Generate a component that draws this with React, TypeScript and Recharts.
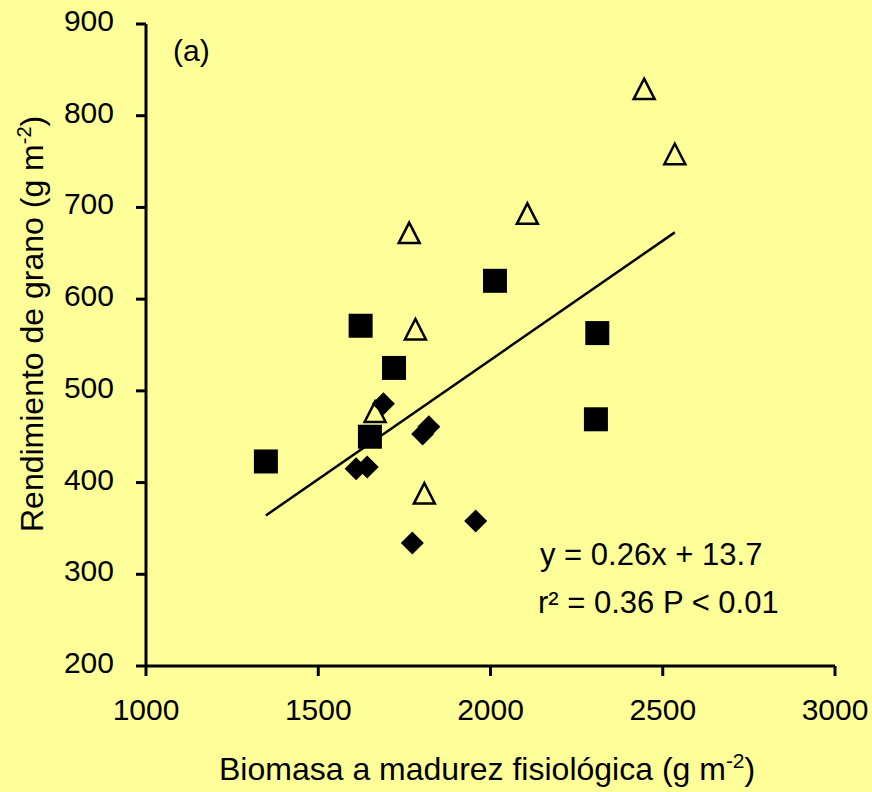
import React from 'react';
import { ScatterChart, Scatter, XAxis, YAxis, ReferenceLine } from 'recharts';

// biomass (x) vs grain yield (y), g m-2
const TRI_X = [1764, 1782, 1665, 1808, 2107, 2446, 2535];
const TRI_Y = [672, 567, 477, 388, 693, 829, 758];
const SQ_X = [1348, 1623, 1720, 1650, 2013, 2310, 2306];
const SQ_Y = [423, 571, 525, 450, 620, 563, 469];
const DIA_X = [1689, 1610, 1642, 1803, 1821, 1957, 1773];
const DIA_Y = [486, 415, 417, 453, 461, 358, 334];

const X_TICKS = [1000, 1500, 2000, 2500, 3000];
const Y_TICKS = [200, 300, 400, 500, 600, 700, 800, 900];

// fitted line y = 0.26x + 13.7
const SLOPE = 0.26;
const INTERCEPT = 13.7;

const FONT = '"Liberation Sans", Arial, Helvetica, sans-serif';
const BG = '#FFFF99';

const toPoints = (xs: number[], ys: number[]) => xs.map((x, i) => ({ x, y: ys[i] }));

const allX = [...TRI_X, ...SQ_X, ...DIA_X];
const fitX0 = Math.min(...allX);
const fitX1 = Math.max(...allX);

const Square = ({ cx, cy }: any) => (
  <rect x={cx - 12} y={cy - 12} width={24} height={24} fill="#000" />
);

const Diamond = ({ cx, cy }: any) => (
  <path d={`M${cx},${cy - 11.5} L${cx + 11.5},${cy} L${cx},${cy + 11.5} L${cx - 11.5},${cy} Z`} fill="#000" />
);

const Triangle = ({ cx, cy }: any) => (
  <path
    d={`M${cx},${cy - 10.5} L${cx + 10.5},${cy + 10} L${cx - 10.5},${cy + 10} Z`}
    fill="none"
    stroke="#000"
    strokeWidth={2.5}
    strokeLinejoin="miter"
  />
);

const XTick = ({ x, y, payload }: any) => (
  <text x={x} y={y} dy={44} textAnchor="middle" fontSize={30} fontFamily={FONT} fill="#000">
    {payload.value}
  </text>
);

const YTick = ({ x, y, payload }: any) => (
  <text x={x} y={y} dx={-22} dy={7} textAnchor="end" fontSize={30} fontFamily={FONT} fill="#000">
    {payload.value}
  </text>
);

export default function App() {
  return (
    <div style={{ position: 'absolute', left: 0, top: 0, width: 872, height: 792, background: BG }}>
      <ScatterChart width={872} height={792} margin={{ top: 24, right: 37, bottom: 0, left: 0 }}>
        <XAxis
          type="number"
          dataKey="x"
          domain={[1000, 3000]}
          ticks={X_TICKS}
          allowDataOverflow
          height={126}
          tickSize={10}
          tickMargin={0}
          axisLine={{ stroke: '#000', strokeWidth: 3 }}
          tickLine={{ stroke: '#000', strokeWidth: 3 }}
          tick={XTick}
        />
        <YAxis
          type="number"
          dataKey="y"
          domain={[200, 900]}
          ticks={Y_TICKS}
          allowDataOverflow
          width={146}
          tickSize={10}
          tickMargin={0}
          axisLine={{ stroke: '#000', strokeWidth: 3 }}
          tickLine={{ stroke: '#000', strokeWidth: 3 }}
          tick={YTick}
        />
        <Scatter data={toPoints(TRI_X, TRI_Y)} shape={Triangle} isAnimationActive={false} />
        <Scatter data={toPoints(DIA_X, DIA_Y)} shape={Diamond} isAnimationActive={false} />
        <Scatter data={toPoints(SQ_X, SQ_Y)} shape={Square} isAnimationActive={false} />
        <ReferenceLine
          segment={[
            { x: fitX0, y: SLOPE * fitX0 + INTERCEPT },
            { x: fitX1, y: SLOPE * fitX1 + INTERCEPT },
          ]}
          stroke="#000"
          strokeWidth={2.5}
          ifOverflow="visible"
        />

        <text x={173} y={61} fontSize={30} fontFamily={FONT} fill="#000">(a)</text>
        <text x={540} y={565} fontSize={31} fontFamily={FONT} fill="#000">
          y = {SLOPE}x + {INTERCEPT}
        </text>
        <text x={538} y={613} fontSize={31} fontFamily={FONT} fill="#000">
          r² = 0.36 P &lt; 0.01
        </text>

        <text x={219} y={780} fontSize={32} fontFamily={FONT} fill="#000">
          Biomasa a madurez fisiológica (g m
          <tspan fontSize={21} dy={-12}>-2</tspan>
          <tspan dy={12}>)</tspan>
        </text>
        <text x={43} y={532} transform="rotate(-90, 43, 532)" fontSize={32} fontFamily={FONT} fill="#000">
          Rendimiento de grano (g m
          <tspan fontSize={20} dy={-12}>-2</tspan>
          <tspan dy={12}>)</tspan>
        </text>
      </ScatterChart>
    </div>
  );
}
